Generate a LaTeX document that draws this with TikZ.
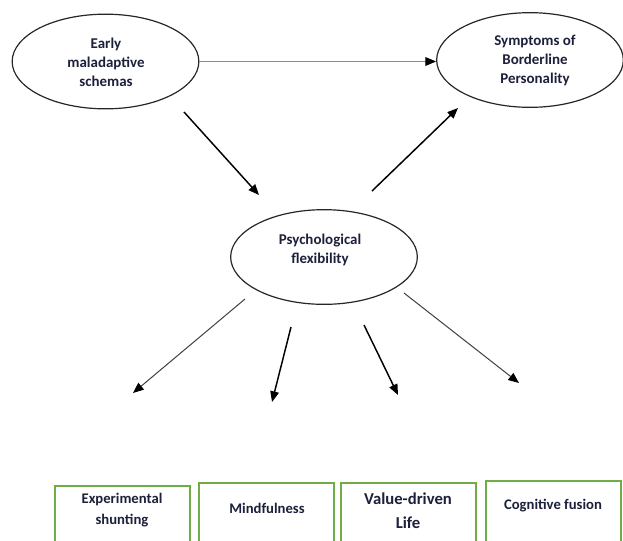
\documentclass[tikz,border=0pt]{standalone}
\usepackage{fontspec}
\setmainfont{Carlito}
\usetikzlibrary{arrows.meta,shapes.geometric}
\definecolor{txt}{RGB}{28,32,58}
\definecolor{boxgreen}{RGB}{112,173,71}
\begin{document}
\begin{tikzpicture}[x=0.75pt,y=-0.75pt,
 oval/.style={draw=black!85,line width=0.9pt,ellipse,inner sep=0pt,minimum width=140pt,minimum height=71pt},
 lbl/.style={text=txt,font=\bfseries\fontsize{11.2}{14.25}\selectfont,align=center,inner sep=0pt},
 boxn/.style={draw=boxgreen,line width=1.5pt,rectangle,inner sep=0pt,minimum width=101.25pt,minimum height=70pt,anchor=north},
 arr/.style={-{Triangle[length=8pt,width=6.5pt]},line width=1.1pt,black},
 thinarr/.style={-{Triangle[length=8pt,width=6.5pt,color=black]},line width=0.75pt,black!75},
 grayarr/.style={-{Triangle[length=8pt,width=6.5pt,color=black]},line width=0.75pt,black!45},
]
\useasboundingbox (0,0) rectangle (623,540);
\clip (0,0) rectangle (623,540);
\fill[white] (0,0) rectangle (623,540);

% ellipses
\node[oval] (ems) at (105.5,61.5) {};
\node[oval] (sym) at (530,60) {};
\node[oval] (psy) at (324,257) {};

% ellipse texts
\node[lbl] (emsT) at (106,62) {Early\\maladaptive\\schemas};
\node[lbl] (symT) at (535,60.5) {Symptoms of\\Borderline\\Personality};
\node[lbl] (psyT) at (320,249.5) {Psychological\\flexibility};

% boxes
\node[boxn] (b1) at (122.5,485) {};
\node[boxn] (b2) at (266.5,482) {};
\node[boxn] (b3) at (408,482) {};
\node[boxn] (b4) at (553.5,480) {};

\node[lbl,font=\bfseries\fontsize{11}{15.75}\selectfont] (b1T) at (122,510.5) {Experimental\\shunting};
\node[lbl,font=\bfseries\fontsize{11}{15.75}\selectfont] (b2T) at (267,508) {Mindfulness};
\node[lbl,font=\bfseries\fontsize{12.5}{18}\selectfont] (b3T) at (408,511) {Value-driven\\Life};
\node[lbl,font=\bfseries\fontsize{11}{15.75}\selectfont] (b4T) at (553,506) {Cognitive fusion};

% arrow end points
\coordinate (a1s) at (184,112);
\coordinate (a1e) at (259,195);
\coordinate (a2s) at (372,191);
\coordinate (a2e) at (458,108);
\coordinate (pa) at (245,299);
\coordinate (ta) at (133,393);
\coordinate (pb) at (291,327);
\coordinate (tb) at (272,402);
\coordinate (pc) at (364,325);
\coordinate (tc) at (398,395);
\coordinate (pd) at (404,293);
\coordinate (td) at (519,383);

% connectors
\draw[grayarr] (ems.east) -- (ems.east -| sym.west);
\draw[arr] (a1s) -- (a1e);
\draw[arr] (a2s) -- (a2e);
\draw[thinarr] (pa) -- (ta);
\draw[arr] (pb) -- (tb);
\draw[arr] (pc) -- (tc);
\draw[thinarr] (pd) -- (td);
\end{tikzpicture}
\end{document}
